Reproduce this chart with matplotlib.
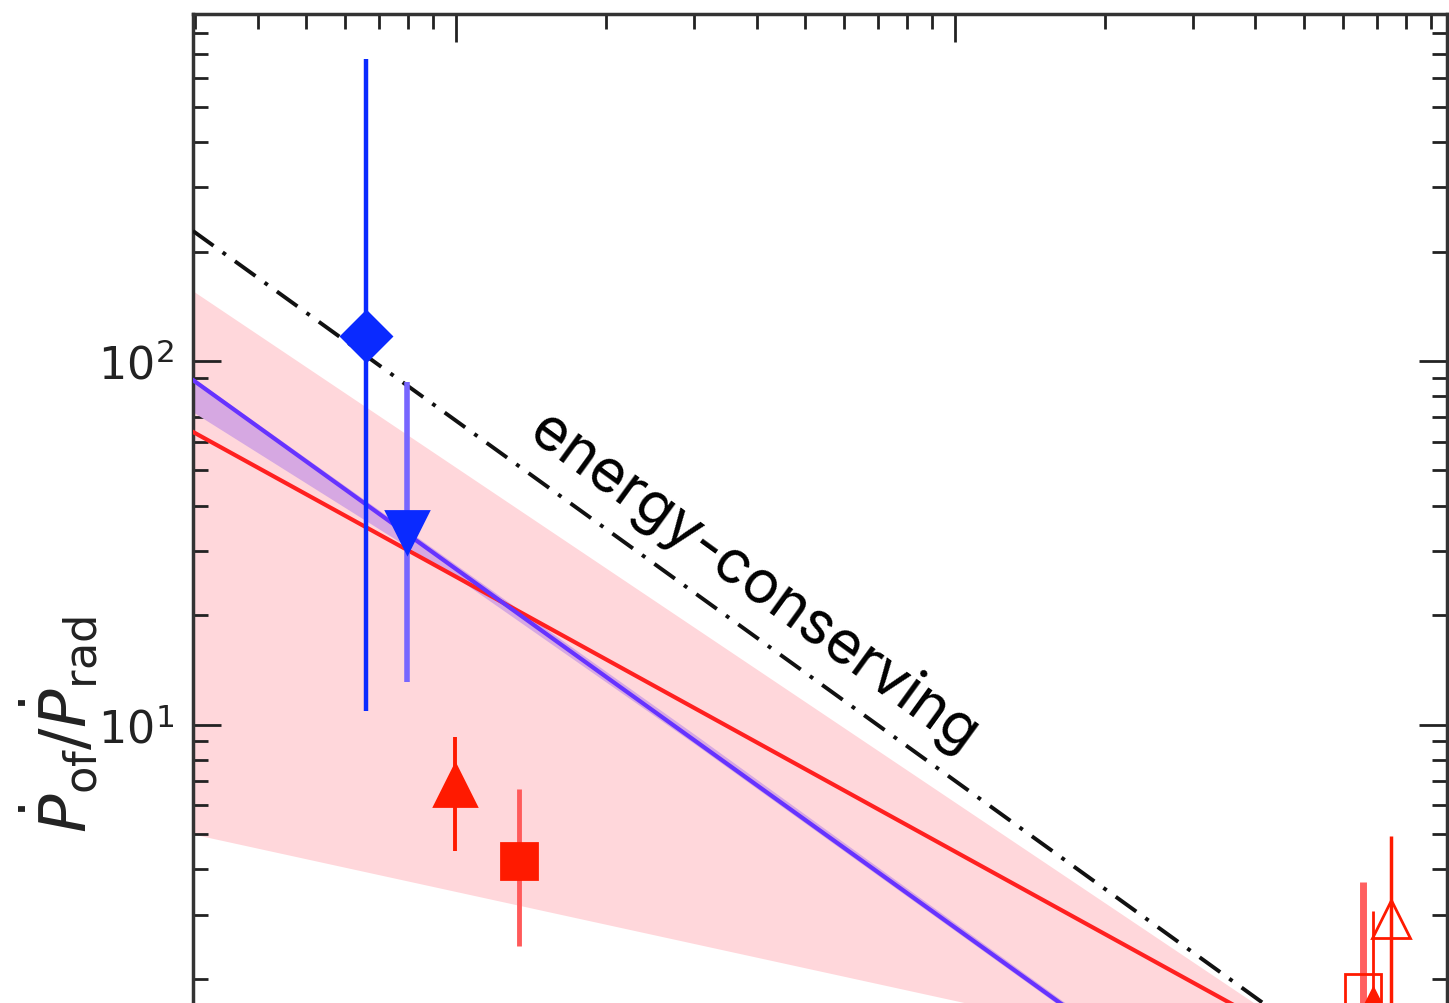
import numpy as np
import matplotlib
matplotlib.use("Agg")
import matplotlib.pyplot as plt

# x range of the straight power-law lines (outflow velocity, km/s)
x_edges = [297, 96800]

# lines, values at the two x edges
energy_conserving = [227.8, 0.74]
fit_red = [63.8, 0.805]
fit_purple = [88.6, 0.295]

# shaded ranges
pink_upper = [155.8, 0.756]
pink_lower = [5.0, 0.882]

purple_band_x = [297, 1000, 3000, 96800]
purple_band_lo = [72.4, 25.4, 8.87, 0.29]
purple_band_hi = [89.9, 27.5, 9.42, 0.298]

# measurements: x, y, lower, upper
diamond_x, diamond_y, diamond_lo, diamond_hi = [660], [117], [10.9], [677]
vtri_x, vtri_y, vtri_lo, vtri_hi = [797], [33.9], [13.1], [87.5]
rtri_x, rtri_y, rtri_lo, rtri_hi = [995], [6.82], [4.49], [9.25]
rsq_x, rsq_y, rsq_lo, rsq_hi = [1337], [4.22], [2.46], [6.65]
otri_x, otri_y, otri_lo, otri_hi = [74750], [2.92], [1.2], [4.94]
osq_x, osq_y, osq_lo, osq_hi = [65700], [1.84], [0.9], [3.69]
stri_x, stri_y, stri_lo, stri_hi = [68790], [1.76], [1.0], [3.07]

blue = "#0a2aff"
red = "#ff1a00"

fig = plt.figure(figsize=(14.49, 10.04), dpi=100)
# axes run past the bottom of the picture (the original is cropped there)
ax = fig.add_axes([193 / 1449, 1 - 1081.5 / 1004, 1254 / 1449, 1066.5 / 1004])
ax.set_xscale("log")
ax.set_yscale("log")

ax.fill_between(x_edges, pink_lower, pink_upper, color="#ffd7db", lw=0, zorder=1)
ax.fill_between(purple_band_x, purple_band_lo, purple_band_hi, color="#d6a8e2", lw=0, zorder=2)
ax.plot(x_edges, fit_red, color="#ff2020", lw=3, zorder=3)
ax.plot(x_edges, fit_purple, color="#6633ff", lw=3, zorder=3)
ax.plot(x_edges, energy_conserving, color="#111111", lw=2.8,
        linestyle=(0, (6.5, 2.9, 1, 2.9)), zorder=3)

ax.text(3950, 24.6, "energy-conserving", fontsize=43, family="Inter",
        rotation=-36, rotation_mode="anchor", ha="center", va="center", zorder=4)


def point(x, y, lo, hi, fmt, ms, mc, ec, mfc=None, elw=3):
    y = np.array(y)
    err = [y - np.array(lo), np.array(hi) - y]
    ax.errorbar(x, y, yerr=err, fmt=fmt, ms=ms, color=mc, ecolor=ec,
                mfc=mfc if mfc else mc, mec=mc, mew=2, elinewidth=elw,
                capsize=0, zorder=5)


point(diamond_x, diamond_y, diamond_lo, diamond_hi, "D", 25, blue, blue, elw=3.2)
point(vtri_x, vtri_y, vtri_lo, vtri_hi, "v", 30, blue, "#7766ff", elw=4)
point(rtri_x, rtri_y, rtri_lo, rtri_hi, "^", 30, red, red, elw=2.8)
point(rsq_x, rsq_y, rsq_lo, rsq_hi, "s", 26, red, "#ff5a5a", elw=3.5)
point(otri_x, otri_y, otri_lo, otri_hi, "^", 28, red, red, mfc="none", elw=2.5)
point(osq_x, osq_y, osq_lo, osq_hi, "s", 26, red, "#ff6060", mfc="none", elw=5)
point(stri_x, stri_y, stri_lo, stri_hi, "^", 16, red, red, elw=2)

ax.set_xlim(x_edges)
ax.set_ylim(1.05, 900)

ax.tick_params(which="both", direction="in", top=True, right=True,
               color="#222222", width=2, labelbottom=False)
ax.tick_params(which="major", length=20, labelsize=32, labelcolor="#222222", pad=14)
ax.tick_params(which="minor", length=11)
for s in ax.spines.values():
    s.set_linewidth(2.5)
    s.set_color("#333333")

ax.set_ylabel(r"$\dot{P}_{\rm of}/\dot{P}_{\rm rad}$", fontsize=46, color="#222222")
ax.yaxis.set_label_coords(-0.074, 0.335)

fig.savefig("out.png", dpi=100)
